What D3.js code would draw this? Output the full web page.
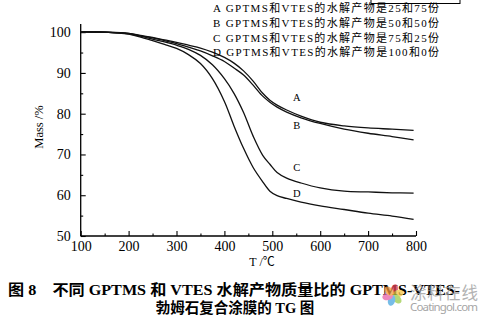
<!DOCTYPE html>
<html><head><meta charset="utf-8">
<script src="https://cdn.jsdelivr.net/npm/d3@7"></script>
<style>body{margin:0;background:#fff}svg{display:block}</style>
</head><body><svg id="c" width="490" height="325"></svg>
<script>
const temps = [100,150,200,225,250,275,300,325,350,375,400,420,440,460,480,495,510,530,560,600,650,700,750,795];
const seriesA = [100.1,100.0,99.7,99.2,98.7,98.1,97.5,96.8,96.1,95.1,93.8,92.4,90.5,88.0,85.0,83.3,82.1,80.9,79.4,77.9,77.0,76.5,76.2,75.9];
const seriesB = [100.1,100.0,99.7,99.1,98.6,97.9,97.2,96.3,95.4,94.2,92.8,91.2,89.5,87.0,84.3,82.8,81.6,80.4,79.0,77.6,76.2,75.2,74.4,73.6];
const seriesC = [100.1,100.0,99.6,99.0,98.3,97.6,96.8,95.8,94.3,92.0,88.6,85.0,80.3,74.5,69.8,67.6,65.6,64.2,63.0,61.8,61.0,60.8,60.6,60.5];
const seriesD = [100.1,100.0,99.5,98.8,97.9,97.0,96.0,94.5,92.3,88.6,83.0,77.0,71.5,66.8,63.3,61.0,59.9,59.2,58.3,57.4,56.5,55.6,54.9,54.1];
const curveLabels = ["A","B","C","D"];
const labelPos = [[551,83.1],[551,76.3],[551,66.0],[551,59.6]];
const legendLines = [
  "A GPTMS和VTES的水解产物是25和75份",
  "B GPTMS和VTES的水解产物是50和50份",
  "C GPTMS和VTES的水解产物是75和25份",
  "D GPTMS和VTES的水解产物是100和0份"];
const xTicks = [100,200,300,400,500,600,700,800];
const yTicks = [50,60,70,80,90,100];
const xLabel = "T /℃";
const yLabel = "Mass /%";
const caption1 = "图 8　不同 GPTMS 和 VTES 水解产物质量比的 GPTMS-VTES-";
const caption2 = "勃姆石复合涂膜的 TG 图";
const wmText1 = "涂料在线";
const wmText2 = "Coatingol.com";
const petalColors = ["#e8475a","#f6c443","#9ccc4a","#4aa8e0","#e661a8","#f39a3e"];

const svg = d3.select("#c");
const serif = "'Liberation Serif','Times New Roman','Noto Sans CJK SC',serif";
const x = d3.scaleLinear().domain([100,800]).range([80.7,416]);
const y = d3.scaleLinear().domain([50,102]).range([236,24]);

// axes
const xa = svg.append("g").attr("transform","translate(0,236)")
  .call(d3.axisBottom(x).tickValues(xTicks).tickSize(-5).tickPadding(5).tickFormat(d3.format("d")));
const xm = svg.append("g").attr("transform","translate(0,236)")
  .call(d3.axisBottom(x).tickValues(d3.range(150,800,100)).tickSize(-2.5).tickFormat(""));
const ya = svg.append("g").attr("transform","translate(80.7,0)")
  .call(d3.axisLeft(y).tickValues(yTicks).tickSize(-5).tickPadding(10).tickFormat(d3.format("d")));
const ym = svg.append("g").attr("transform","translate(80.7,0)")
  .call(d3.axisLeft(y).tickValues(d3.range(55,100,10)).tickSize(-2.5).tickFormat(""));
[xa,xm,ya,ym].forEach(g=>{
  g.select(".domain").attr("stroke","#000").attr("stroke-width",1.3);
  g.selectAll(".tick line").attr("stroke","#000").attr("stroke-width",1.1);
  g.selectAll("text").attr("font-family",serif).attr("font-size",14).attr("fill","#000");
});
ya.selectAll(".domain").attr("d","M0,236V24");
xa.selectAll(".domain").attr("d","M80.7,0H416");
ym.select(".domain").remove(); xm.select(".domain").remove();

// curves
const line = d3.line().x((d,i)=>x(temps[i])).y(d=>y(d)).curve(d3.curveCatmullRom.alpha(0.5));
[seriesA,seriesB,seriesC,seriesD].forEach(s=>{
  svg.append("path").attr("d",line(s)).attr("fill","none").attr("stroke","#111").attr("stroke-width",1.3);
});
svg.selectAll(".cl").data(curveLabels).enter().append("text")
  .attr("x",(d,i)=>x(labelPos[i][0])).attr("y",(d,i)=>y(labelPos[i][1]))
  .attr("text-anchor","middle").attr("font-family",serif).attr("font-size",10.5).text(d=>d);

// axis titles
svg.append("text").attr("x",262).attr("y",266).attr("text-anchor","middle")
  .attr("font-family",serif).attr("font-size",12).text(xLabel);
svg.append("text").attr("transform","translate(43,127) rotate(-90)").attr("text-anchor","middle")
  .attr("font-family",serif).attr("font-size",12.5).text(yLabel);

// legend
svg.append("rect").attr("x",371).attr("y",-10).attr("width",89).attr("height",13.5)
  .attr("fill","none").attr("stroke","#000").attr("stroke-width",1);
svg.selectAll(".lg").data(legendLines).enter().append("text")
  .attr("x",213).attr("y",(d,i)=>12.3+i*14.7)
  .attr("font-family",serif).attr("font-size",11)
  .attr("textLength",226).attr("lengthAdjust","spacing").text(d=>d);

// caption
svg.append("text").attr("x",8).attr("y",295).attr("font-family",serif).attr("font-weight","bold")
  .attr("font-size",14.5).attr("textLength",452).attr("lengthAdjust","spacingAndGlyphs").text(caption1);
svg.append("text").attr("x",235).attr("y",312.5).attr("text-anchor","middle").attr("font-family",serif)
  .attr("font-weight","bold").attr("font-size",14.5).text(caption2);

// watermark
const wm = svg.append("g").attr("opacity",0.75);
wm.selectAll("ellipse").data(petalColors).enter().append("ellipse")
  .attr("cx",0).attr("cy",-5.5).attr("rx",3.6).attr("ry",5.5).attr("fill",d=>d)
  .attr("transform",(d,i)=>`translate(393,295) rotate(${i*60+15})`);
wm.append("text").attr("x",410).attr("y",299).attr("font-family","'Noto Sans CJK SC',sans-serif")
  .attr("font-size",16.5).attr("fill","#999").attr("textLength",68).text(wmText1);
wm.append("text").attr("x",410).attr("y",310.5).attr("font-family","'Noto Sans','DejaVu Sans',sans-serif")
  .attr("font-size",11.5).attr("fill","#888").attr("textLength",68).text(wmText2);
</script></body></html>
